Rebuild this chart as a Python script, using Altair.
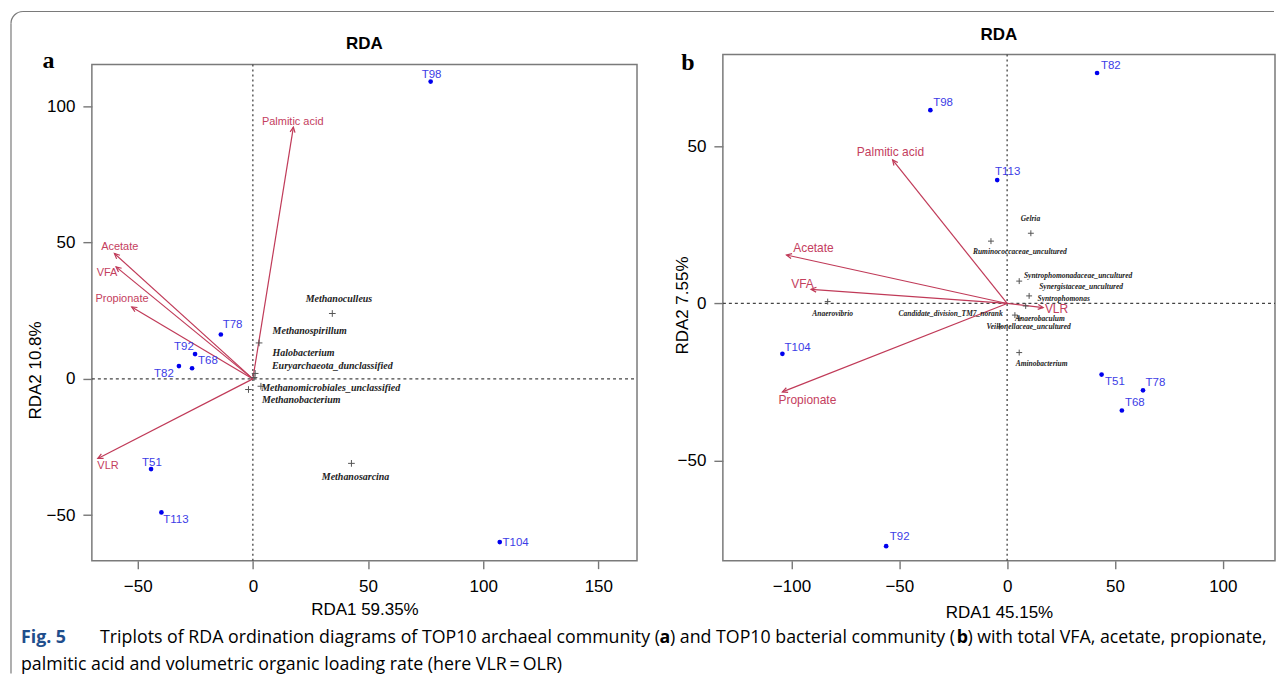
import altair as alt
import pandas as pd

# ---------------- data: panel a (archaea) ----------------
a_samples = ["T98", "T78", "T92", "T68", "T82", "T51", "T113", "T104"]
a_sx = [77.2, -13.9, -25.1, -26.4, -32.1, -44.2, -39.7, 107.2]
a_sy = [109.1, 16.3, 9.1, 3.9, 4.7, -33.1, -49.0, -59.9]
a_slx = [73.3, -13.1, -34.2, -23.8, -42.9, -48.1, -38.9, 108.4]
a_sly = [111.7, 19.9, 11.6, 6.5, 1.7, -30.7, -51.8, -60.1]

env_names = ["Palmitic acid", "Acetate", "VFA", "Propionate", "VLR"]
a_ex = [17.6, -60.1, -59.4, -52.6, -67.3]
a_ey = [92.4, 46.0, 41.1, 26.4, -29.2]
a_elx = [17.3, -57.8, -63.3, -56.8, -62.9]
a_ely = [94.4, 48.3, 38.8, 29.2, -31.9]

a_species = ["Methanoculleus", "Methanospirillum", "Halobacterium",
             "Euryarchaeota_dunclassified", "Methanomicrobiales_unclassified",
             "Methanobacterium", "Methanosarcina"]
a_px = [34.5, 2.7, 1.0, 0.5, 3.5, -1.9, 42.8]
a_py = [24.0, 13.2, 2.0, 0.5, -2.7, -3.9, -31.0]
a_plx = [37.4, 24.7, 22.0, 34.5, 33.8, 21.0, 44.6]
a_ply = [29.5, 17.5, 9.6, 4.7, -3.2, -7.8, -35.9]

# ---------------- data: panel b (bacteria) ----------------
b_samples = ["T82", "T98", "T113", "T104", "T51", "T78", "T68", "T92"]
b_sx = [41.7, -35.6, -4.6, -104.2, 43.8, 63.0, 53.2, -56.1]
b_sy = [73.2, 61.4, 39.2, -16.0, -22.6, -27.6, -34.0, -77.1]
b_slx = [43.5, -34.3, -5.6, -103.2, 45.4, 64.2, 54.6, -54.4]
b_sly = [75.4, 63.6, 41.7, -14.2, -25.0, -25.3, -31.7, -74.3]

b_ex = [-53.1, -102.3, -90.9, -104.2, 16.7]
b_ey = [45.6, 15.4, 4.5, -28.1, -1.3]
b_elx = [-54.1, -89.8, -94.9, -92.6, 22.9]
b_ely = [48.2, 17.6, 6.2, -30.6, -1.7]

b_species = ["Gelria", "Ruminococcaceae_uncultured", "Syntrophomonadaceae_uncultured",
             "Synergistaceae_uncultured", "Syntrophomonas", "Candidate_division_TM7_norank",
             "Anaerobaculum", "Veillonellaceae_uncultured", "Aminobacterium", "Anaerovibrio"]
b_px = [11.0, -7.5, 5.6, 10.2, 8.6, 3.6, 5.6, -3.4, 5.6, -83.2]
b_py = [22.3, 19.8, 7.1, 2.4, -0.8, -3.7, -4.7, -7.4, -15.6, 0.6]
b_plx = [10.8, 5.9, 32.9, 34.3, 26.2, -26.2, 15.2, 10.0, 16.0, -80.9]
b_ply = [26.7, 16.3, 8.7, 5.3, 1.4, -3.3, -4.9, -7.6, -19.2, -3.3]

# axis tick values and titles
a_xticks = [-50, 0, 50, 100, 150]
a_yticks = [-50, 0, 50, 100]
b_xticks = [-100, -50, 0, 50, 100]
b_yticks = [-50, 0, 50]

ARROW = "#C03A58"
ENVTXT = "#C4405E"
DOT = "#0000EE"
SAMPTXT = "#3C3CE6"
FRAME = "#7A7A7A"

PLUS = "M-1,0L1,0M0,-1L0,1"
VHEAD = "M-0.45,0.95L0,0L0.45,0.95"


def make_panel(W, H, xdom, ydom, box_top, xticks, yticks, xtitle, ytitle,
               xtitle_y, ytitle_x, ytitle_y,
               samples, sx, sy, slx, sly,
               ex, ey, elx, ely,
               species, px, py, plx, ply,
               sp_size, sp_font, env_font, head_size):
    kx = W / (xdom[1] - xdom[0])
    ky = H / (ydom[1] - ydom[0])
    xscale = alt.Scale(domain=xdom, nice=False, zero=False)
    yscale = alt.Scale(domain=ydom, nice=False, zero=False)
    xaxis = alt.Axis(values=xticks, title=xtitle, grid=False, domain=False,
                     titleY=xtitle_y, titleBaseline="middle", labelPadding=10,
                     tickSize=8, labelFlush=False, labelOverlap=False)
    yaxis = alt.Axis(values=yticks, title=ytitle, grid=False, domain=False,
                     titleX=ytitle_x, titleY=ytitle_y, titleAngle=270,
                     titleBaseline="middle", labelPadding=8, tickSize=9,
                     labelFlush=False, labelOverlap=False)

    def X(f):
        return alt.X(f, type="quantitative", scale=xscale, axis=xaxis)

    def Y(f):
        return alt.Y(f, type="quantitative", scale=yscale, axis=yaxis)

    sdf = pd.DataFrame({"name": samples, "x": sx, "y": sy, "lx": slx, "ly": sly})
    edf = pd.DataFrame({"name": env_names, "vx": ex, "vy": ey, "lx": elx, "ly": ely,
                        "ox": [0.0] * len(ex), "oy": [0.0] * len(ex)})
    pdf = pd.DataFrame({"name": species, "x": px, "y": py, "lx": plx, "ly": ply})
    zdf = pd.DataFrame({"z": [0.0]})

    box = alt.Chart(zdf).mark_rect(fill=None, stroke=FRAME, strokeWidth=1.5).encode(
        x=alt.value(0), x2=alt.value(W), y=alt.value(box_top), y2=alt.value(H))

    vline = alt.Chart(zdf).mark_rule(color="#444", strokeDash=[2, 3], strokeWidth=1.3).encode(
        x=X("z"), y=alt.value(box_top), y2=alt.value(H))
    hline = alt.Chart(zdf).mark_rule(color="#444", strokeDash=[3, 3], strokeWidth=1.2).encode(
        y=Y("z"), x=alt.value(0), x2=alt.value(W))

    arrows = alt.Chart(edf).mark_rule(color=ARROW, strokeWidth=1.2).encode(
        x=X("ox"), y=Y("oy"), x2="vx", y2="vy")
    heads = alt.Chart(edf).transform_calculate(
        ang=f"(atan2(datum.vx*{kx}, datum.vy*{ky})*180/PI + 360) % 360"
    ).mark_point(shape=VHEAD, filled=False, color=ARROW, strokeWidth=1.2,
                 size=head_size, opacity=1).encode(
        x=X("vx"), y=Y("vy"), angle=alt.Angle("ang:Q", scale=None))
    elab = alt.Chart(edf).mark_text(font="Liberation Sans", fontSize=env_font,
                                    color=ENVTXT, align="center", baseline="middle").encode(
        x=X("lx"), y=Y("ly"), text="name")

    spm = alt.Chart(pdf).mark_point(shape=PLUS, filled=False, color="#555",
                                    strokeWidth=1, size=sp_size, opacity=1).encode(
        x=X("x"), y=Y("y"))
    splab = alt.Chart(pdf).mark_text(font="Liberation Serif", fontStyle="italic",
                                     fontWeight="bold", fontSize=sp_font, color="#222",
                                     align="center", baseline="middle").encode(
        x=X("lx"), y=Y("ly"), text="name")

    dots = alt.Chart(sdf).mark_circle(color=DOT, size=22, opacity=1).encode(
        x=X("x"), y=Y("y"))
    slab = alt.Chart(sdf).mark_text(font="Liberation Sans", fontSize=11.5, color=SAMPTXT,
                                    align="left", baseline="middle").encode(
        x=X("lx"), y=Y("ly"), text="name")

    return [box, vline, hline, arrows, heads, spm, splab, elab, dots, slab]


def txt(s, x, y, size, weight="normal", font="Liberation Sans", color="black",
        align="center", baseline="middle", style="normal"):
    return alt.Chart(pd.DataFrame({"t": [s]})).mark_text(
        font=font, fontSize=size, fontWeight=weight, color=color, align=align,
        baseline=baseline, fontStyle=style).encode(
        x=alt.value(x), y=alt.value(y), text="t")


# panel geometry (pixels)
WA, HA = 546, 507
WB, HB = 553, 507

layers_a = make_panel(
    WA, HA, [-69.9, 166.8], [-66.7, 119.06], 10, a_xticks, a_yticks,
    "RDA1  59.35%", "RDA2  10.8%", 49, -56, 316,
    a_samples, a_sx, a_sy, a_slx, a_sly, a_ex, a_ey, a_elx, a_ely,
    a_species, a_px, a_py, a_plx, a_ply, 45, 10, 11, 120)

layers_b = make_panel(
    WB, HB, [-131.8, 124.2], [-81.7, 79.1], 0, b_xticks, b_yticks,
    "RDA1  45.15%", "RDA2  7.55%", 52, -40, 251,
    b_samples, b_sx, b_sy, b_slx, b_sly, b_ex, b_ey, b_elx, b_ely,
    b_species, b_px, b_py, b_plx, b_ply, 35, 7.5, 12, 120)

# decorations in panel a (origin = page (91, 54))
frame_top = alt.Chart(pd.DataFrame({"z": [0]})).mark_rule(color=FRAME, strokeWidth=1.2).encode(
    x=alt.value(-69), x2=alt.value(1184), y=alt.value(-43))
frame_left = alt.Chart(pd.DataFrame({"z": [0]})).mark_rule(color=FRAME, strokeWidth=1.2).encode(
    x=alt.value(-81), y=alt.value(-31), y2=alt.value(620))
frame_corner = alt.Chart(pd.DataFrame({"z": [0]})).mark_arc(color=FRAME).encode(
    x=alt.value(-69), y=alt.value(-31), theta=alt.value(4.712), theta2=alt.value(6.2832),
    radius=alt.value(12.6), radius2=alt.value(11.4))

CAP = "Open Sans"
CS = 17.8
L1 = 584
L2 = 612
deco_a = [
    frame_top, frame_left, frame_corner,
    txt("RDA", WA / 2, -10, 17, weight="bold"),
    txt("a", -43.5, 14, 24, weight="bold", font="Liberation Serif", baseline="alphabetic"),
    txt("Fig. 5", -71, L1, CS, weight="bold", font=CAP, color="#1F4E8C", align="left"),
    txt("Triplots of RDA ordination diagrams of TOP10 archaeal community (", 569, L1, CS,
        font=CAP, align="right"),
    txt("a", 574, L1, CS, weight="bold", font=CAP, align="center"),
    txt(") and TOP10 bacterial community (", 579, L1, CS, font=CAP, align="left"),
    txt("b", 872, L1, CS, weight="bold", font=CAP, align="center"),
    txt(") with total VFA, acetate, propionate,", 877, L1, CS, font=CAP, align="left"),
    txt("palmitic acid and volumetric organic loading rate (here VLR\u2009=\u2009OLR)",
        -71, L2, CS, font=CAP, align="left"),
]
deco_b = [
    txt("RDA", WB / 2, -19, 17, weight="bold"),
    txt("b", -35, 15.3, 24, weight="bold", font="Liberation Serif", baseline="alphabetic"),
]

panel_a = alt.layer(*layers_a, *deco_a).properties(width=WA, height=HA)
panel_b = alt.layer(*layers_b, *deco_b).properties(width=WB, height=HB)

chart = alt.hconcat(panel_a, panel_b, spacing=86, bounds="flush").properties(
    padding={"left": 2, "top": 2, "right": 0, "bottom": 0}
).configure_view(stroke=None).configure_axis(
    labelFont="Liberation Sans", labelFontSize=17, labelColor="black",
    titleFont="Liberation Sans", titleFontSize=17, titleFontWeight="normal",
    titleColor="black", tickColor="#777", tickWidth=1.4
)

chart.save("out.html", embed_options={"renderer": "svg", "actions": False})
